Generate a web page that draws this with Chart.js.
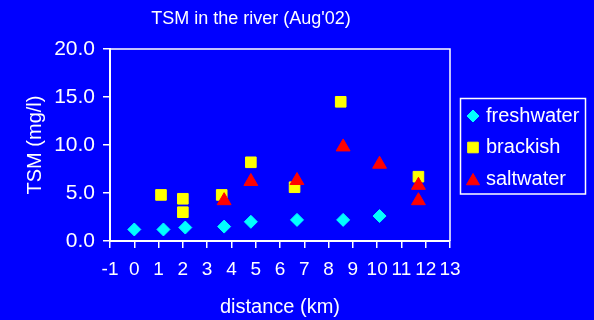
<!DOCTYPE html>
<html>
<head>
<meta charset="utf-8">
<script src="https://cdn.jsdelivr.net/npm/chart.js@4"></script>
<style>
  html, body { margin: 0; padding: 0; background: #0000ff; }
  canvas { display: block; }
</style>
</head>
<body>
<canvas id="chart-1" width="594" height="320"></canvas>
<script>
// TSM samples along the river, split by water type (distance in km, TSM in mg/l)
const freshDist = [0.0, 1.2, 2.1, 3.7, 4.8, 6.7, 8.6, 10.1];
const freshTsm  = [1.2, 1.2, 1.4, 1.5, 2.0, 2.2, 2.2, 2.6];
const brackDist = [1.1, 2.0, 2.0, 3.6, 4.8, 6.6, 8.5, 11.7];
const brackTsm  = [4.8, 4.4, 3.0, 4.8, 8.2, 5.6, 14.5, 6.7];
const saltDist  = [3.7, 4.8, 6.7, 8.6, 10.1, 11.7, 11.7];
const saltTsm   = [4.2, 6.2, 6.3, 9.8, 8.0, 5.8, 4.2];

const xTicks = [-1, 0, 1, 2, 3, 4, 5, 6, 7, 8, 9, 10, 11, 12, 13];
const yTicks = [0, 5, 10, 15, 20];

const FONT = '"Liberation Sans", Arial, sans-serif';
const WHITE = '#ffffff';

function points(xs, ys) {
  return xs.map((x, i) => ({ x: x, y: ys[i] }));
}

// white box round the plot area (top and right sides; axes draw the rest)
const frame = {
  id: 'frame',
  afterDraw(chart) {
    const { ctx, chartArea: a } = chart;
    ctx.save();
    ctx.strokeStyle = WHITE;
    ctx.lineWidth = 1.5;
    ctx.beginPath();
    ctx.moveTo(a.left, a.top);
    ctx.lineTo(a.right, a.top);
    ctx.lineTo(a.right, a.bottom);
    ctx.stroke();
    ctx.restore();
  }
};

// chart title, set left of centre like the original sheet
const titleText = {
  id: 'titleText',
  afterDraw(chart) {
    const ctx = chart.ctx;
    ctx.save();
    ctx.fillStyle = WHITE;
    ctx.font = '18px ' + FONT;
    ctx.textAlign = 'center';
    ctx.textBaseline = 'middle';
    ctx.fillText("TSM in the river (Aug'02)", 251, 19);
    ctx.restore();
  }
};

// boxed legend to the right of the plot
const boxedLegend = {
  id: 'boxedLegend',
  afterDraw(chart) {
    const ctx = chart.ctx;
    const rows = [116, 147.5, 181];
    const textRows = [116, 147.5, 179];
    ctx.save();
    ctx.strokeStyle = WHITE;
    ctx.lineWidth = 1.5;
    ctx.strokeRect(460.5, 98.5, 125, 95.5);
    chart.data.datasets.forEach((ds, i) => {
      ctx.fillStyle = ds.backgroundColor;
      ctx.strokeStyle = ds.borderColor;
      ctx.lineWidth = 1;
      Chart.helpers.drawPoint(ctx, {
        pointStyle: ds.pointStyle,
        radius: ds.legendRadius,
        borderWidth: 1,
        rotation: 0
      }, 473, rows[i]);
      ctx.fillStyle = WHITE;
      ctx.font = '20px ' + FONT;
      ctx.textAlign = 'left';
      ctx.textBaseline = 'middle';
      ctx.fillText(ds.label, 486, textRows[i]);
    });
    ctx.restore();
  }
};

new Chart(document.getElementById('chart-1'), {
  type: 'scatter',
  data: {
    datasets: [{
      label: 'freshwater',
      data: points(freshDist, freshTsm),
      pointStyle: 'rectRot',
      pointRadius: 6.5,
      legendRadius: 6,
      backgroundColor: '#00ffff',
      borderColor: '#00ffff',
      borderWidth: 1,
      order: 2
    }, {
      label: 'brackish',
      data: points(brackDist, brackTsm),
      pointStyle: 'rect',
      pointRadius: 7.5,
      legendRadius: 7.5,
      backgroundColor: '#ffff00',
      borderColor: '#ffff00',
      borderWidth: 1,
      order: 1
    }, {
      label: 'saltwater',
      data: points(saltDist, saltTsm),
      pointStyle: 'triangle',
      pointRadius: 8,
      legendRadius: 7.5,
      backgroundColor: '#ff0000',
      borderColor: '#ff0000',
      borderWidth: 1,
      order: 0
    }]
  },
  options: {
    responsive: false,
    animation: false,
    layout: { padding: { top: 49, right: 144, left: 0, bottom: 0 } },
    plugins: {
      legend: { display: false },
      title: { display: false },
      tooltip: { enabled: false }
    },
    scales: {
      x: {
        type: 'linear',
        min: -1,
        max: 13,
        afterBuildTicks: s => { s.ticks = xTicks.map(v => ({ value: v })); },
        afterFit: s => { s.height = 79; },
        grid: { drawOnChartArea: false, drawTicks: true, tickLength: 7, color: WHITE, lineWidth: 1.5 },
        border: { display: true, color: WHITE, width: 2 },
        ticks: { color: WHITE, font: { family: FONT, size: 19 }, padding: 10, maxRotation: 0, autoSkip: false },
        title: { display: true, text: 'distance (km)', color: WHITE, font: { family: FONT, size: 20 }, padding: { top: 0, bottom: 1 } }
      },
      y: {
        min: 0,
        max: 20,
        afterBuildTicks: s => { s.ticks = yTicks.map(v => ({ value: v })); },
        afterFit: s => { s.width = 110; },
        grid: { drawOnChartArea: false, drawTicks: true, tickLength: 7, color: WHITE, lineWidth: 1.5 },
        border: { display: true, color: WHITE, width: 2 },
        ticks: { color: WHITE, font: { family: FONT, size: 21 }, padding: 8, callback: v => Number(v).toFixed(1) },
        title: { display: true, text: 'TSM (mg/l)', color: WHITE, font: { family: FONT, size: 20 }, padding: { top: 23, bottom: 0 } }
      }
    }
  },
  plugins: [frame, titleText, boxedLegend]
});
</script>
</body>
</html>
